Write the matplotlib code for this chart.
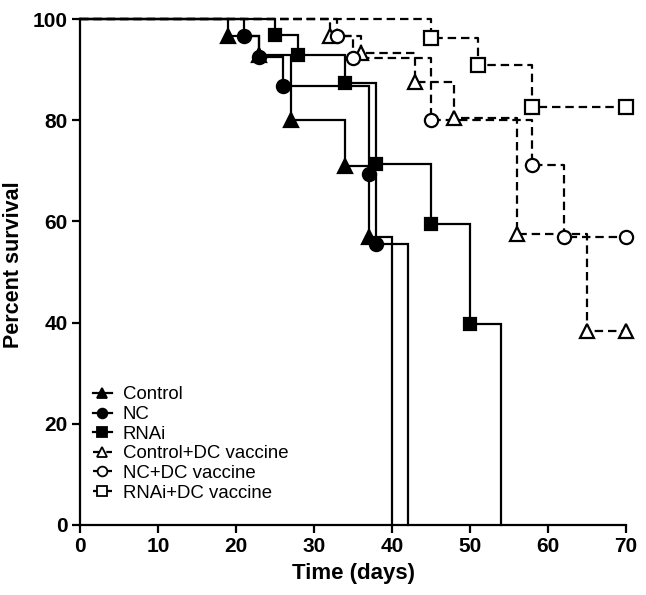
import matplotlib
matplotlib.use("Agg")
import matplotlib.pyplot as plt
from matplotlib.lines import Line2D

plt.rcParams['font.family'] = ['Liberation Sans', 'DejaVu Sans']

# Data (Kaplan-Meier steps): times (days) and percent survival after each step
control_t = [0, 19, 23, 27, 34, 37, 40]
control_s = [100, 96.7, 92.9, 80, 71, 57, 0]
nc_t = [0, 21, 23, 26, 37, 38, 42]
nc_s = [100, 96.7, 92.5, 86.8, 69.4, 55.5, 0]
rnai_t = [0, 25, 28, 34, 38, 45, 50, 54]
rnai_s = [100, 96.8, 92.9, 87.3, 71.3, 59.5, 39.7, 0]
ctrl_dc_t = [0, 32, 36, 43, 48, 56, 65, 70]
ctrl_dc_s = [100, 96.7, 93.3, 87.5, 80.4, 57.5, 38.3, 38.3]
nc_dc_t = [0, 33, 35, 45, 58, 62, 70]
nc_dc_s = [100, 96.7, 92.3, 80, 71.1, 56.9, 56.9]
rnai_dc_t = [0, 45, 51, 58, 70]
rnai_dc_s = [100, 96.3, 90.9, 82.6, 82.6]

labels = ["Control", "NC", "RNAi", "Control+DC vaccine", "NC+DC vaccine", "RNAi+DC vaccine"]
xticks = [0, 10, 20, 30, 40, 50, 60, 70]
yticks = [0, 20, 40, 60, 80, 100]

fig = plt.figure(figsize=(6.46, 5.95), dpi=100)
ax = fig.add_axes([80/646, 1 - 524.7/595, (626-80)/646, (524.7-19.3)/595])

lw = 1.6
dash = (0, (3.8, 2.2))

series = [
    # (t, s, marker, filled, dashed, ms, last_is_zero)
    (ctrl_dc_t, ctrl_dc_s, '^', False, True, 10, False),
    (nc_dc_t, nc_dc_s, 'o', False, True, 9.5, False),
    (rnai_dc_t, rnai_dc_s, 's', False, True, 9.5, False),
    (control_t, control_s, '^', True, False, 9.5, True),
    (nc_t, nc_s, 'o', True, False, 9.5, True),
    (rnai_t, rnai_s, 's', True, False, 9, True),
]

for t, s, m, filled, dashed, ms, zero in series:
    ls = dash if dashed else '-'
    ax.step(t, s, where='post', color='black', lw=lw, linestyle=ls,
            clip_on=False, zorder=2 if dashed else 3, solid_joinstyle='miter')
    mt = t[1:-1] if zero else t[1:]
    msv = s[1:-1] if zero else s[1:]
    ax.plot(mt, msv, linestyle='none', marker=m, ms=ms,
            mfc='black' if filled else 'white', mec='black', mew=1.6,
            clip_on=False, zorder=4)

ax.set_xlim(0, 70)
ax.set_ylim(0, 100)
ax.set_xticks(xticks)
ax.set_yticks(yticks)
ax.spines['top'].set_visible(False)
ax.spines['right'].set_visible(False)
for sp in ['left', 'bottom']:
    ax.spines[sp].set_linewidth(1.6)
ax.tick_params(direction='out', length=6, width=1.6, labelsize=15, pad=3)
for lab in ax.get_xticklabels() + ax.get_yticklabels():
    lab.set_fontweight('bold')
ax.set_xlabel('Time (days)', fontsize=16, fontweight='bold', labelpad=5)
ax.set_ylabel('Percent survival', fontsize=15.5, fontweight='bold')
ax.yaxis.set_label_coords(-0.103, 0.514)

handles = []
for (t, s, m, filled, dashed, ms, zero), lab in zip(series[3:] + series[:3], labels):
    handles.append(Line2D([], [], color='black', lw=lw, linestyle=dash if dashed else '-',
                          marker=m, ms=7, mfc='black' if filled else 'white', mec='black', mew=1.3))
leg = ax.legend(handles, labels, loc='lower left', bbox_to_anchor=(0.0, 0.02),
                frameon=False, fontsize=13.4, handlelength=1.0, handletextpad=0.6,
                labelspacing=0.14, borderpad=0.2)

fig.savefig('out.png', dpi=100)
